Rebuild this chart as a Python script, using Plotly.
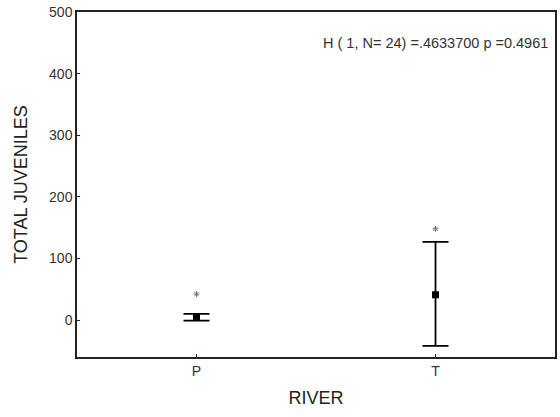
import plotly.graph_objects as go

rivers = ["P", "T"]
median = [5, 41]
whisker_low = [-1, -42]
whisker_high = [10, 127]
extremes = [42, 148]
y_ticks = [0, 100, 200, 300, 400, 500]
stat_text = "H ( 1, N= 24) =.4633700 p =0.4961"

err_plus = [h - m for h, m in zip(whisker_high, median)]
err_minus = [m - l for m, l in zip(median, whisker_low)]

fig = go.Figure()
fig.add_trace(go.Scatter(
    x=rivers, y=median, mode="markers",
    marker=dict(symbol="square", size=7, color="black"),
    error_y=dict(type="data", symmetric=False, array=err_plus, arrayminus=err_minus,
                 color="black", thickness=1.8, width=13),
    showlegend=False,
))
fig.add_trace(go.Scatter(
    x=rivers, y=extremes, mode="markers",
    marker=dict(symbol="asterisk-open", size=5, color="#777777", line=dict(width=1, color="#777777")),
    showlegend=False,
))

fig.update_layout(
    width=560, height=417,
    margin=dict(l=77, r=5, t=12, b=60),
    plot_bgcolor="white", paper_bgcolor="white",
    font=dict(family="Liberation Sans, Arial, sans-serif", size=14, color="#333333"),
    annotations=[dict(text=stat_text, xref="paper", yref="paper", x=0.99, y=0.91,
                      xanchor="right", yanchor="middle", showarrow=False,
                      font=dict(size=14.5, color="#333333"))],
)
fig.update_xaxes(
    type="category", range=[-0.5, 1.5], automargin="top+bottom",
    showline=True, linecolor="#222222", linewidth=1.5, mirror=True,
    ticks="inside", ticklen=3, tickcolor="#222222",
    showgrid=False, zeroline=False,
    title=dict(text="RIVER", font=dict(size=18, color="#222222"), standoff=14),
)
fig.update_yaxes(
    range=[-60, 500], tickvals=y_ticks, ticklabeloverflow="allow",
    automargin="left+right",
    showline=True, linecolor="#222222", linewidth=1.5, mirror=True,
    ticks="inside", ticklen=3, tickcolor="#222222",
    showgrid=False, zeroline=False,
    title=dict(text="TOTAL JUVENILES", font=dict(size=18, color="#222222"), standoff=17),
)
fig.write_html("out.html", config={"displayModeBar": False},
               post_script="document.body.style.margin='0';")
